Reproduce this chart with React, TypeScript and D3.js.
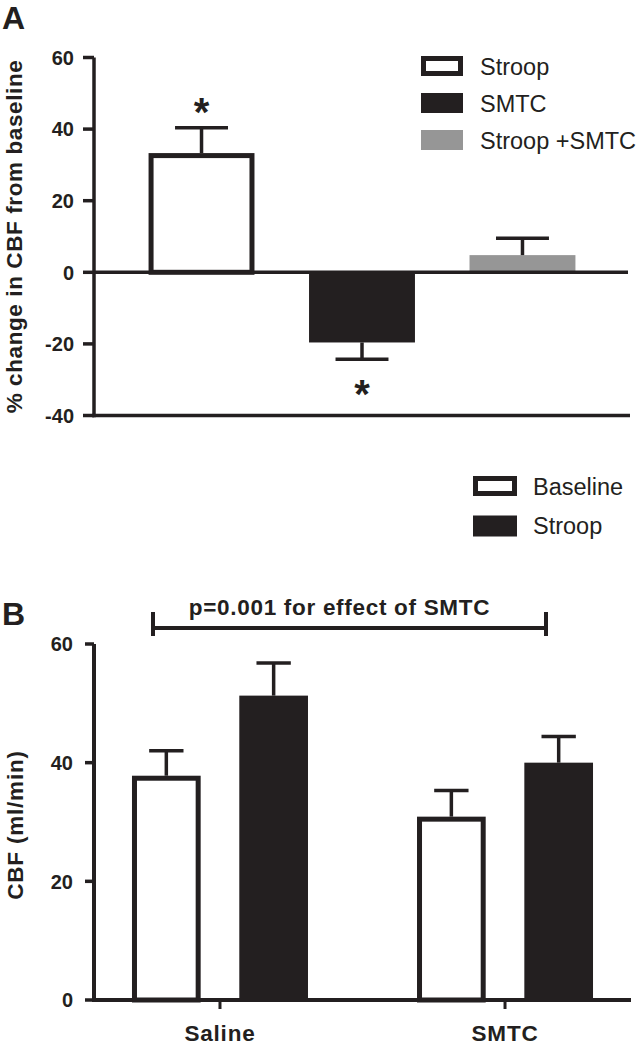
import React from "react";
import * as d3 from "d3";

// ---------- Panel A data ----------
const conditionsA = ["Stroop", "SMTC", "Stroop +SMTC"];
const changeA = [33.3, -19.6, 4.8];
const semA = [7.1, 4.7, 4.7];
const signifA = [true, true, false];
const ticksA = [-40, -20, 0, 20, 40, 60];

// ---------- Panel B data ----------
const groupsB = ["Saline", "SMTC"];
const seriesB = ["Baseline", "Stroop"];
const baselineB = [37.8, 30.9];
const baselineSemB = [4.2, 4.4];
const stroopB = [51.3, 40.0];
const stroopSemB = [5.5, 4.4];
const ticksB = [0, 20, 40, 60];
const bracketText = "p=0.001 for effect of SMTC";

const BLACK = "#231f20";
const GRAY = "#969696";
const FONT = "'Liberation Sans', Arial, Helvetica, sans-serif";

export default function App() {
  // Panel A scales
  const yA = d3.scaleLinear().domain([-40, 60]).range([415.5, 57.5]);
  const xA = d3.scaleBand<string>().domain(conditionsA).range([94, 630]).padding(0.34);
  const fillA = d3.scaleOrdinal<string, string>().domain(conditionsA).range(["#ffffff", BLACK, GRAY]);
  const strokeA = d3.scaleOrdinal<string, string>().domain(conditionsA).range([BLACK, "none", "none"]);

  // Panel B scales
  const yB = d3.scaleLinear().domain([0, 60]).range([1000, 644]);
  const xB = d3.scalePoint<string>().domain(groupsB).range([94, 631]).padding(0.442);
  const sub = d3.scaleBand<string>().domain(seriesB).range([-88, 88]).paddingInner(0.36);
  const fillB = d3.scaleOrdinal<string, string>().domain(seriesB).range(["#ffffff", BLACK]);

  const dataB = groupsB.flatMap((g, i) => [
    { g, s: "Baseline", v: baselineB[i], e: baselineSemB[i] },
    { g, s: "Stroop", v: stroopB[i], e: stroopSemB[i] },
  ]);

  const SW = 5; // outline bar stroke
  const bold = { fontFamily: FONT, fontWeight: 700 as const, fill: BLACK };
  const reg = { fontFamily: FONT, fontWeight: 400 as const, fill: BLACK };

  const bwA = xA.bandwidth();
  const bwB = sub.bandwidth();

  const legendA = conditionsA.map((c, i) => ({ c, cy: 66 + i * 37 }));
  const legendB = seriesB.map((s, i) => ({ s, cy: 486 + i * 39.5 }));

  const bracketL = (xB("Saline") as number) - 67;
  const bracketR = (xB("SMTC") as number) + 41;
  const bracketY = yB(60) - 16;

  return (
    <svg
      width={636}
      height={1048}
      style={{ position: "absolute", left: 0, top: 0, background: "#fff" }}
    >
      <rect x={0} y={0} width={636} height={1048} fill="#fff" />

      {/* ================= Panel A ================= */}
      <text x={2} y={29} style={{ ...bold, fontSize: 32 }}>A</text>

      {/* y label */}
      <text
        transform={`translate(21.5,${(yA(60) + yA(-40)) / 2}) rotate(-90)`}
        textAnchor="middle"
        style={{ ...bold, fontSize: 22.5, letterSpacing: 0.6 }}
      >
        % change in CBF from baseline
      </text>

      {/* bars */}
      {conditionsA.map((c, i) => {
        const v = changeA[i];
        const x0 = xA(c) as number;
        const yTop = yA(Math.max(0, v));
        const yBot = yA(Math.min(0, v));
        const outlined = strokeA(c) !== "none";
        return (
          <g key={c}>
            {outlined ? (
              <rect
                x={x0 + SW / 2}
                y={yTop + SW / 2}
                width={bwA - SW}
                height={yBot - yTop - SW / 2}
                fill={fillA(c)}
                stroke={strokeA(c)}
                strokeWidth={SW}
              />
            ) : (
              <rect x={x0} y={yTop} width={bwA} height={yBot - yTop} fill={fillA(c)} />
            )}
          </g>
        );
      })}

      {/* zero line */}
      <line x1={94} x2={628} y1={yA(0)} y2={yA(0)} stroke={BLACK} strokeWidth={3.5} />

      {/* error bars */}
      {conditionsA.map((c, i) => {
        const v = changeA[i];
        const e = v >= 0 ? v + semA[i] : v - semA[i];
        const cx = (xA(c) as number) + bwA / 2;
        return (
          <g key={c} stroke={BLACK} strokeWidth={3.5}>
            <line x1={cx} x2={cx} y1={yA(v)} y2={yA(e)} />
            <line x1={cx - bwA / 4} x2={cx + bwA / 4} y1={yA(e)} y2={yA(e)} />
            {signifA[i] && (
              <text
                x={cx}
                y={v >= 0 ? yA(e) - 2 : yA(e) + 49}
                textAnchor="middle"
                stroke="none"
                style={{ ...bold, fontSize: 40 }}
              >
                *
              </text>
            )}
          </g>
        );
      })}

      {/* axes A */}
      <line x1={94} x2={94} y1={yA(60)} y2={yA(-40) + 1.75} stroke={BLACK} strokeWidth={3.5} />
      <line x1={92.25} x2={630} y1={yA(-40)} y2={yA(-40)} stroke={BLACK} strokeWidth={3.5} />
      {ticksA.map((t) => (
        <g key={t}>
          <line x1={83} x2={94} y1={yA(t)} y2={yA(t)} stroke={BLACK} strokeWidth={3.5} />
          <text x={74} y={yA(t)} dy="0.36em" textAnchor="end" style={{ ...bold, fontSize: 20 }}>
            {t}
          </text>
        </g>
      ))}

      {/* legend A */}
      {legendA.map(({ c, cy }) => {
        const outlined = strokeA(c) !== "none";
        return (
          <g key={c}>
            {outlined ? (
              <rect x={421 + SW / 2} y={cy - 10 + SW / 2} width={42 - SW} height={20 - SW}
                fill={fillA(c)} stroke={strokeA(c)} strokeWidth={SW} />
            ) : (
              <rect x={421} y={cy - 10} width={42} height={20} fill={fillA(c)} />
            )}
            <text x={480} y={cy + 8.5} style={{ ...reg, fontSize: 23.5 }}>{c}</text>
          </g>
        );
      })}

      {/* ================= Panel B ================= */}
      <text x={2} y={625} style={{ ...bold, fontSize: 32 }}>B</text>

      {/* legend B */}
      {legendB.map(({ s, cy }) => (
        <g key={s}>
          {s === "Baseline" ? (
            <rect x={473 + SW / 2} y={cy - 10 + SW / 2} width={44 - SW} height={20 - SW}
              fill={fillB(s)} stroke={BLACK} strokeWidth={SW} />
          ) : (
            <rect x={473} y={cy - 10} width={44} height={21} fill={fillB(s)} />
          )}
          <text x={533} y={cy + 8.5} style={{ ...reg, fontSize: 23.5 }}>{s}</text>
        </g>
      ))}

      {/* bracket */}
      <g stroke={BLACK} strokeWidth={4}>
        <line x1={bracketL} x2={bracketR} y1={bracketY} y2={bracketY} />
        <line x1={bracketL} x2={bracketL} y1={bracketY - 16} y2={bracketY + 8} />
        <line x1={bracketR} x2={bracketR} y1={bracketY - 16} y2={bracketY + 8} />
      </g>
      <text
        x={(bracketL + bracketR) / 2 - 10}
        y={bracketY - 13}
        textAnchor="middle"
        style={{ ...bold, fontSize: 22.5, letterSpacing: 0.7 }}
      >
        {bracketText}
      </text>

      {/* y label B */}
      <text
        transform={`translate(22.5,825) rotate(-90)`}
        textAnchor="middle"
        style={{ ...bold, fontSize: 22.5, letterSpacing: 0.8 }}
      >
        CBF (ml/min)
      </text>

      {/* bars B */}
      {dataB.map((d) => {
        const x0 = (xB(d.g) as number) + (sub(d.s) as number);
        const yTop = yB(d.v);
        const y0 = yB(0);
        const cx = x0 + bwB / 2;
        const ye = yB(d.v + d.e);
        return (
          <g key={d.g + d.s}>
            {d.s === "Baseline" ? (
              <rect x={x0 + SW / 2} y={yTop + SW / 2} width={bwB - SW} height={y0 - yTop - SW / 2}
                fill={fillB(d.s)} stroke={BLACK} strokeWidth={SW} />
            ) : (
              <rect x={x0} y={yTop} width={bwB} height={y0 - yTop} fill={fillB(d.s)} />
            )}
            <line x1={cx} x2={cx} y1={yTop} y2={ye} stroke={BLACK} strokeWidth={3.5} />
            <line x1={cx - bwB / 4} x2={cx + bwB / 4} y1={ye} y2={ye} stroke={BLACK} strokeWidth={3.5} />
          </g>
        );
      })}

      {/* axes B */}
      <line x1={94} x2={94} y1={yB(60)} y2={yB(0) + 2} stroke={BLACK} strokeWidth={4} />
      <line x1={92} x2={631} y1={yB(0)} y2={yB(0)} stroke={BLACK} strokeWidth={4} />
      {ticksB.map((t) => (
        <g key={t}>
          <line x1={85} x2={94} y1={yB(t)} y2={yB(t)} stroke={BLACK} strokeWidth={3.5} />
          <text x={73} y={yB(t)} dy="0.36em" textAnchor="end" style={{ ...bold, fontSize: 20 }}>
            {t}
          </text>
        </g>
      ))}
      {groupsB.map((g) => (
        <g key={g}>
          <line x1={xB(g) as number} x2={xB(g) as number} y1={yB(0)} y2={yB(0) + 9}
            stroke={BLACK} strokeWidth={3} />
          <text x={xB(g) as number} y={1041} textAnchor="middle"
            style={{ ...bold, fontSize: 22.5, letterSpacing: 0.8 }}>
            {g}
          </text>
        </g>
      ))}
    </svg>
  );
}
